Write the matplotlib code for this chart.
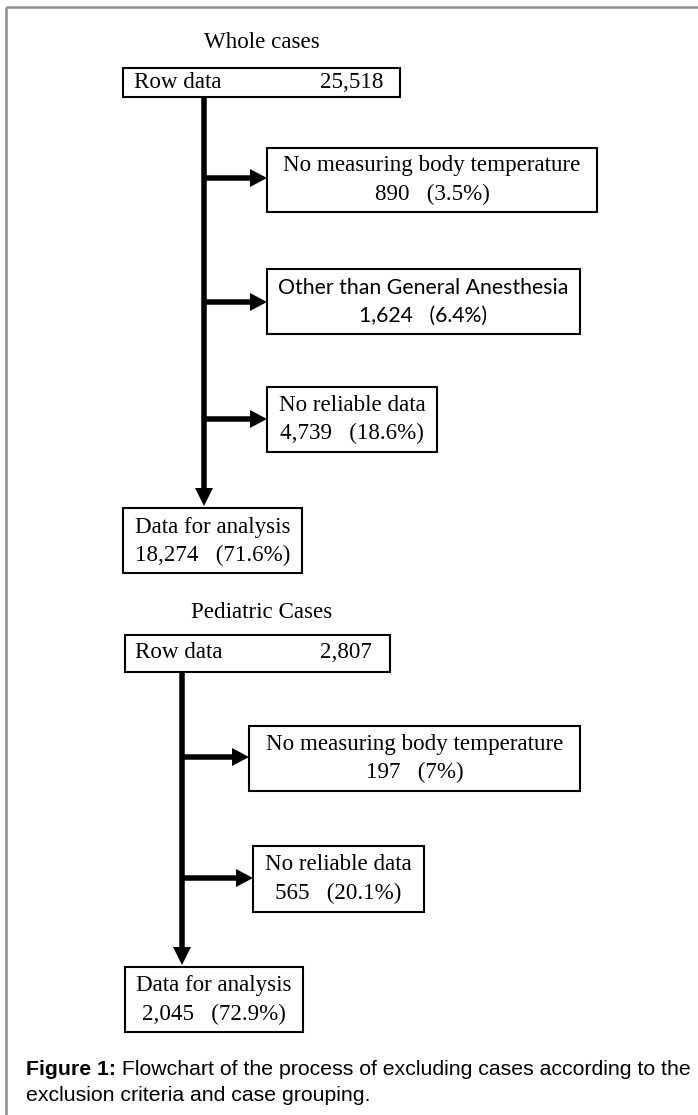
import matplotlib
matplotlib.use("Agg")
import matplotlib.pyplot as plt
from matplotlib.patches import Rectangle, FancyArrow

# flowchart content
groups = ["Whole cases", "Pediatric Cases"]
raw_counts = ["25,518", "2,807"]
whole_excl = ["No measuring body temperature", "Other than General Anesthesia", "No reliable data"]
whole_excl_n = ["890   (3.5%)", "1,624   (6.4%)", "4,739   (18.6%)"]
ped_excl = ["No measuring body temperature", "No reliable data"]
ped_excl_n = ["197   (7%)", "565   (20.1%)"]
final_n = ["18,274   (71.6%)", "2,045   (72.9%)"]

SERIF = "Liberation Serif"
FS = 16.6

fig = plt.figure(figsize=(6.98, 11.15), dpi=100)
ax = fig.add_axes([0, 0, 1, 1])
ax.set_xlim(0, 698)
ax.set_ylim(1115, 0)
ax.axis("off")

# outer frame (only top and left visible)
ax.plot([6, 698], [7, 7], color="#8c8c8c", lw=1.8, solid_capstyle="butt")
ax.plot([6, 6], [7, 1115], color="#8c8c8c", lw=1.8, solid_capstyle="butt")


def box(x0, y0, x1, y1):
    ax.add_patch(Rectangle((x0, y0), x1 - x0, y1 - y0, fill=False,
                           edgecolor="black", lw=1.5))


def harrow(x0, x1, y):
    ax.add_patch(FancyArrow(x0, y, x1 - x0, 0, width=5.5, head_width=18,
                            head_length=17, length_includes_head=True,
                            color="black", lw=0))


def varrow(x, y0, y1):
    ax.add_patch(FancyArrow(x, y0, 0, y1 - y0, width=5.5, head_width=18,
                            head_length=18, length_includes_head=True,
                            color="black", lw=0))


def two_lines(cx, cy, l1, l2, fam=SERIF, fs=FS):
    ax.text(cx, cy - 14, l1, ha="center", va="center", family=fam, fontsize=fs)
    ax.text(cx, cy + 14, l2, ha="center", va="center", family=fam, fontsize=fs)


# ---- whole cases ----
ax.text(262, 42, groups[0], ha="center", va="center", family=SERIF, fontsize=FS)
box(123, 68, 400, 97)
ax.text(134, 82, "Row data", ha="left", va="center", family=SERIF, fontsize=FS)
ax.text(383, 82, raw_counts[0], ha="right", va="center", family=SERIF, fontsize=FS)
varrow(204, 97, 506)

w_boxes = [(267, 148, 597, 212), (267, 269, 580, 334), (267, 387, 437, 452)]
w_arrow_y = [178, 302, 419]
w_fams = [SERIF, "Lato", SERIF]
w_fs = [FS, 15.3, FS]
for (x0, y0, x1, y1), ay, lab, n, fam, fs in zip(w_boxes, w_arrow_y, whole_excl, whole_excl_n, w_fams, w_fs):
    box(x0, y0, x1, y1)
    harrow(204, x0, ay)
    two_lines((x0 + x1) / 2, (y0 + y1) / 2, lab, n, fam, fs)

box(123, 508, 302, 573)
two_lines(212.5, 541, "Data for analysis", final_n[0])

# ---- pediatric cases ----
ax.text(262, 612, groups[1], ha="center", va="center", family=SERIF, fontsize=FS)
box(125, 635, 390, 672)
ax.text(135, 653, "Row data", ha="left", va="center", family=SERIF, fontsize=FS)
ax.text(372, 653, raw_counts[1], ha="right", va="center", family=SERIF, fontsize=FS)
varrow(182, 672, 965)

p_boxes = [(249, 726, 580, 791), (253, 846, 424, 912)]
p_arrow_y = [757, 878]
for (x0, y0, x1, y1), ay, lab, n in zip(p_boxes, p_arrow_y, ped_excl, ped_excl_n):
    box(x0, y0, x1, y1)
    harrow(182, x0, ay)
    two_lines((x0 + x1) / 2, (y0 + y1) / 2, lab, n)

box(125, 967, 303, 1032)
two_lines(214, 1000, "Data for analysis", final_n[1])

# ---- caption ----
cap = ax.text(26, 1075, "Figure 1:", ha="left", va="baseline", family="Liberation Sans",
              fontsize=15.3, fontweight="bold")
ax.annotate(" Flowchart of the process of excluding cases according to the",
            xy=(1, 0), xycoords=cap, ha="left", va="bottom",
            family="Liberation Sans", fontsize=15.3)
ax.text(26, 1101, "exclusion criteria and case grouping.", ha="left", va="baseline",
        family="Liberation Sans", fontsize=15.3)

fig.savefig("out.png", dpi=100)
